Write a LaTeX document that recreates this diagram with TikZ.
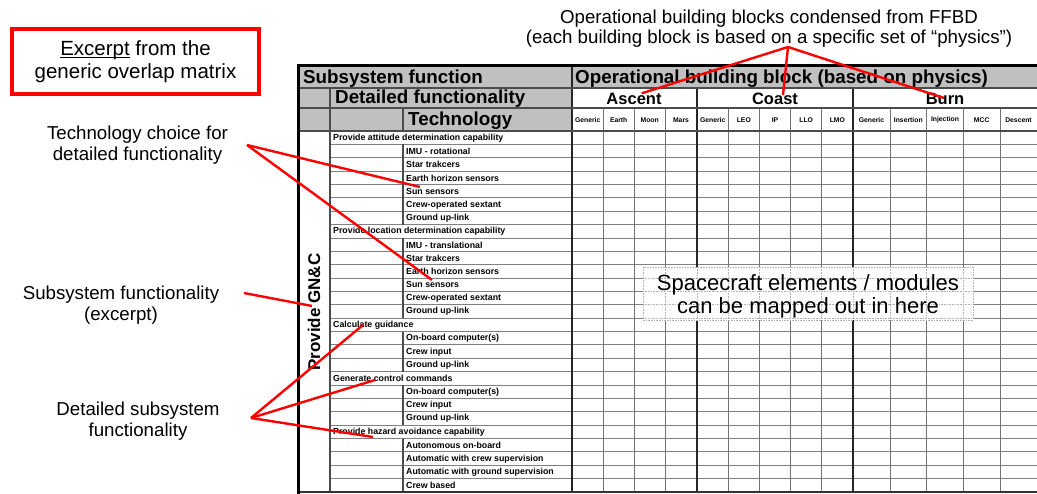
\documentclass[tikz,border=0pt]{standalone}
\usepackage{fontspec}
\setmainfont{Liberation Sans}
\definecolor{hdrgray}{RGB}{192,192,192}
\definecolor{callred}{RGB}{255,0,0}
\newcommand\myul[1]{\setbox0\hbox{#1}\rlap{\rule[-2.8pt]{\wd0}{1.3pt}}\box0\relax}
\begin{document}
\begin{tikzpicture}[x=1pt,y=-1pt,
  lbl/.style={align=center, font=\fontsize{18.7}{20.5}\selectfont, inner sep=0pt},
  hdr/.style={font=\bfseries\fontsize{18.8}{20}\selectfont, inner sep=0pt, anchor=base west},
  grp/.style={font=\bfseries\fontsize{16.5}{18}\selectfont, inner sep=0pt, anchor=base},
  colh/.style={font=\bfseries\fontsize{6.8}{8}\selectfont, inner sep=0pt},
  rowf/.style={font=\bfseries\fontsize{8.8}{10}\selectfont, anchor=west, inner sep=0pt},
  callout/.style={callred, line width=2.4pt},
  gridh/.style={black!50, line width=0.9pt},
  gridv/.style={black!55, line width=0.9pt},
  grpline/.style={black!85, line width=1.5pt},
  hline/.style={black!70, line width=1.3pt},
  dotl/.style={black!30, line width=0.6pt, densely dotted}
]
\useasboundingbox (0,0) rectangle (1037,494);

% header fills
\fill[hdrgray] (297,66) rectangle (1037,88);
\fill[hdrgray] (297,88) rectangle (572,131);

% data row lines
\foreach \i in {1,...,26}
  \draw[gridh] (330,{131+\i*13.37}) -- (1037,{131+\i*13.37});

% column lines
\foreach \x in {603.3,634,665.3,728.3,759.3,790.7,821.7,890,926.7,963.3,1000}
  \draw[gridv] (\x,108) -- (\x,492);
\foreach \x in {697,853}
  \draw[grpline] (\x,88) -- (\x,492);
\draw[grpline] (572,66) -- (572,492);
\draw[hline] (330,88) -- (330,492);
\draw[hline] (403,108) -- (403,131);

% header horizontal lines
\draw[hline] (297,88) -- (1037,88);
\draw[hline] (297,108) -- (1037,108);
\draw[hline] (297,131) -- (1037,131);

% rows
\foreach \k/\t [count=\i from 0] in {
  f/Provide attitude determination capability,
  t/IMU - rotational,
  t/Star trakcers,
  t/Earth horizon sensors,
  t/Sun sensors,
  t/Crew-operated sextant,
  t/Ground up-link,
  f/Provide location determination capability,
  t/IMU - translational,
  t/Star trakcers,
  t/Earth horizon sensors,
  t/Sun sensors,
  t/Crew-operated sextant,
  t/Ground up-link,
  f/Calculate guidance,
  t/On-board computer(s),
  t/Crew input,
  t/Ground up-link,
  f/Generate control commands,
  t/On-board computer(s),
  t/Crew input,
  t/Ground up-link,
  f/Provide hazard avoidance capability,
  t/Autonomous on-board,
  t/Automatic with crew supervision,
  t/Automatic with ground supervision,
  t/Crew based}{
  \pgfmathsetmacro\ytop{131+\i*13.37}
  \pgfmathsetmacro\ymid{\ytop+6.9}
  \pgfmathsetmacro\ybot{\ytop+13.37}
  \if\k t
    \draw[hline] (403,\ytop) -- (403,\ybot);
    \node[rowf] (r\i) at (406,\ymid) {\t};
  \else
    \node[rowf] (r\i) at (333,\ymid) {\t};
  \fi
}

% header texts
\node[hdr] (hsub) at (303,83.5) {Subsystem function};
\node[hdr] (hdet) at (335,103.5) {Detailed functionality};
\node[hdr] (htec) at (408,126) {Technology};
\node[hdr] (hop) at (575,83.5) {Operational building block (based on physics)};
\node[grp] (gasc) at (634,104.5) {Ascent};
\node[grp] (gcoa) at (775,104.5) {Coast};
\node[grp] (gbur) at (945,104.5) {Burn};
\foreach \x/\t [count=\j] in {587.7/Generic,618.7/Earth,649.7/Moon,681/Mars,
  712.7/Generic,743.8/LEO,775/IP,806.2/LLO,837.3/LMO,
  871.5/Generic,908.3/Insertion,945/Injection,981.7/MCC,1018.5/Descent}
  \node[colh] (c\j) at (\x,120) {\t};

% borders
\draw[black!80, line width=1.5pt] (297,492) -- (1037,492);
\draw[black, line width=3pt] (298.2,494) -- (298.2,65.5) -- (1037,65.5);

% GN&C vertical text
\node[rotate=90, font=\bfseries\fontsize{17}{19}\selectfont, inner sep=0pt] (gnc) at (314,312) {Provide GN\&C};

% spacecraft box
\fill[white] (643,267) rectangle (973,320);
\begin{scope}
\clip (643,267) rectangle (973,320);
\foreach \y in {278.1,291.4,304.8,318.2}
  \draw[dotl] (643,\y) -- (973,\y);
\foreach \x in {665.3,697,728.3,759.3,790.7,821.7,853,890,926.7,963.3}
  \draw[dotl] (\x,267) -- (\x,320);
\end{scope}
\draw[dotl] (643,267) rectangle (973,320);
\node[align=center, font=\fontsize{22}{23}\selectfont, inner sep=0pt] (sc) at (808,296)
  {Spacecraft elements / modules\\can be mapped out in here};

% labels
\node[draw=callred, line width=4.5pt, minimum width=247pt, minimum height=65pt,
  align=center, font=\fontsize{20.5}{23}\selectfont, inner sep=0pt] (exc) at (135.5,61.5)
  {\myul{Excerpt} from the\\generic overlap matrix};
\node[lbl] (toplbl) at (769,28.5) {Operational building blocks condensed from FFBD\\(each building block is based on a specific set of “physics”)};
\node[lbl] (techlbl) at (137.5,145) {Technology choice for\\detailed functionality};
\node[lbl] (sublbl) at (121,305) {Subsystem functionality\\(excerpt)};
\node[lbl] (detlbl) at (138,421) {Detailed subsystem\\functionality};

% callout points
\coordinate (tA) at (788,47);
\coordinate (tE1) at (641.7,93.3);
\coordinate (tE2) at (783,95);
\coordinate (tE3) at (944,98);
\coordinate (tcS) at (247,145);
\coordinate (tcE1) at (420,187);
\coordinate (tcE2) at (432,280);
\coordinate (sfS) at (244,293);
\coordinate (sfE) at (312,306);
\coordinate (dS) at (251,418);
\coordinate (dE1) at (363,325);
\coordinate (dE2) at (375,380);
\coordinate (dE3) at (373,437);

\draw[callout] (tA) -- (tE1);
\draw[callout] (tA) -- (tE2);
\draw[callout] (tA) -- (tE3);
\draw[callout] (tcS) -- (tcE1);
\draw[callout] (tcS) -- (tcE2);
\draw[callout] (sfS) -- (sfE);
\draw[callout] (dS) -- (dE1);
\draw[callout] (dS) -- (dE2);
\draw[callout] (dS) -- (dE3);
\end{tikzpicture}
\end{document}
